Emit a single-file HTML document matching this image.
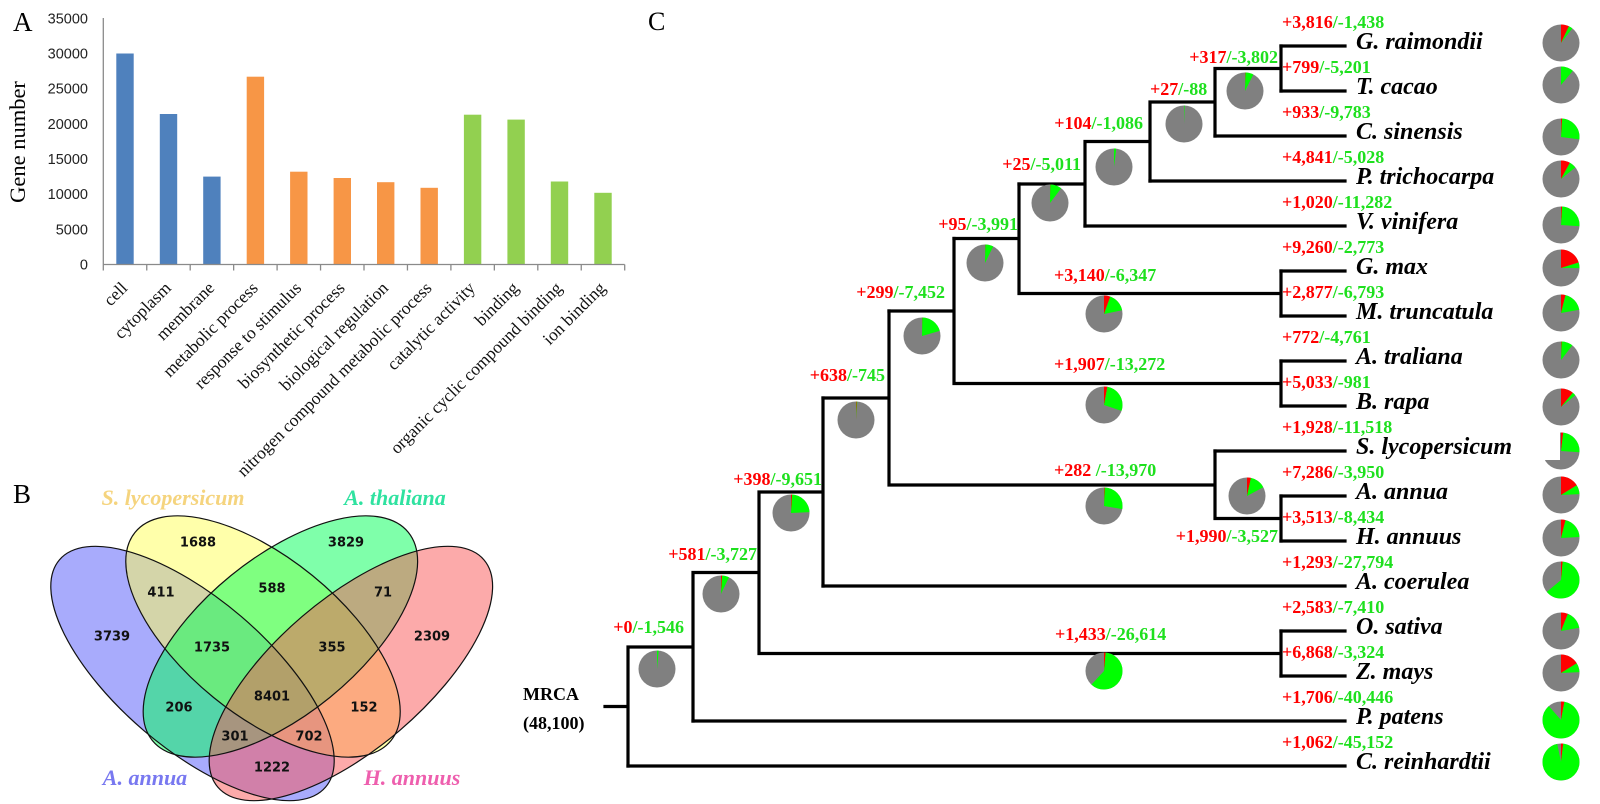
<!DOCTYPE html>
<html><head><meta charset="utf-8"><style>
html,body{margin:0;padding:0;background:#fff;overflow:hidden;width:1600px;height:804px;}
svg{display:block;}
.ser{font-family:"Liberation Serif",serif;}
.tick{font-family:"Liberation Sans",sans-serif;font-size:14.5px;fill:#222;}
.xl{font-family:"Liberation Serif",serif;font-size:17.5px;fill:#111;}
.vn{font-family:"DejaVu Sans",sans-serif;font-size:13px;font-weight:bold;fill:#111;text-anchor:middle;}
.vl{font-family:"Liberation Serif",serif;font-size:22px;font-weight:bold;font-style:italic;text-anchor:middle;}
.ann{font-family:"Liberation Serif",serif;font-size:18px;font-weight:bold;}
.leaf{font-family:"Liberation Serif",serif;font-size:24px;font-weight:bold;font-style:italic;fill:#000;}
.r{fill:#ff0000;}.g{fill:#1ee01e;}
</style></head><body>
<svg width="1600" height="804" viewBox="0 0 1600 804" xmlns="http://www.w3.org/2000/svg" overflow="hidden">
<defs><clipPath id="frame"><rect x="0" y="0" width="1600" height="804"/></clipPath></defs>
<rect width="1600" height="804" fill="#fff"/>

<!-- ===== Panel A ===== -->
<text class="ser" x="13" y="31" font-size="27">A</text>
<text class="ser" font-size="22.5" text-anchor="middle" transform="translate(25,142) rotate(-90)">Gene number</text>
<g class="tick" text-anchor="end">
<text x="88" y="269.5">0</text>
<text x="88" y="234.3">5000</text>
<text x="88" y="199.2">10000</text>
<text x="88" y="164">15000</text>
<text x="88" y="128.8">20000</text>
<text x="88" y="93.7">25000</text>
<text x="88" y="58.5">30000</text>
<text x="88" y="23.3">35000</text>
</g>
<g>
<rect x="116.3" y="53.5" width="17.4" height="211" fill="#4f81bd"/>
<rect x="159.8" y="114" width="17.4" height="150.5" fill="#4f81bd"/>
<rect x="203.2" y="176.6" width="17.4" height="87.9" fill="#4f81bd"/>
<rect x="246.7" y="76.7" width="17.4" height="187.8" fill="#f79646"/>
<rect x="290.1" y="171.7" width="17.4" height="92.8" fill="#f79646"/>
<rect x="333.6" y="178" width="17.4" height="86.5" fill="#f79646"/>
<rect x="377.0" y="182.2" width="17.4" height="82.3" fill="#f79646"/>
<rect x="420.5" y="187.8" width="17.4" height="76.7" fill="#f79646"/>
<rect x="463.9" y="114.7" width="17.4" height="149.8" fill="#92d050"/>
<rect x="507.4" y="119.6" width="17.4" height="144.9" fill="#92d050"/>
<rect x="550.8" y="181.5" width="17.4" height="83" fill="#92d050"/>
<rect x="594.3" y="192.8" width="17.4" height="71.7" fill="#92d050"/>
</g>
<g stroke="#8a8a8a" stroke-width="1.3" fill="none">
<line x1="103.3" y1="18" x2="103.3" y2="264.5"/>
<line x1="103.3" y1="264.5" x2="624.7" y2="264.5"/>
<path d="M103.3 264.5V270.5M146.75 264.5V270.5M190.2 264.5V270.5M233.65 264.5V270.5M277.1 264.5V270.5M320.55 264.5V270.5M364 264.5V270.5M407.45 264.5V270.5M450.9 264.5V270.5M494.35 264.5V270.5M537.8 264.5V270.5M581.25 264.5V270.5M624.7 264.5V270.5"/>
</g>
<g class="xl" text-anchor="end">
<text transform="translate(128.5,289) rotate(-45)">cell</text>
<text transform="translate(172,289) rotate(-45)">cytoplasm</text>
<text transform="translate(215.4,289) rotate(-45)">membrane</text>
<text transform="translate(258.9,289) rotate(-45)">metabolic process</text>
<text transform="translate(302.3,289) rotate(-45)">response to stimulus</text>
<text transform="translate(345.8,289) rotate(-45)">biosynthetic process</text>
<text transform="translate(389.2,289) rotate(-45)">biological regulation</text>
<text transform="translate(432.7,289) rotate(-45)">nitrogen compound metabolic process</text>
<text transform="translate(476.1,289) rotate(-45)">catalytic activity</text>
<text transform="translate(519.6,289) rotate(-45)">binding</text>
<text transform="translate(563,289) rotate(-45)">organic cyclic compound binding</text>
<text transform="translate(606.5,289) rotate(-45)">ion binding</text>
</g>

<!-- ===== Panel B (Venn) ===== -->
<text class="ser" x="13" y="503" font-size="27">B</text>
<g clip-path="url(#frame)">
<g fill-opacity="0.5">
<ellipse cx="192.5" cy="673.5" rx="175" ry="75" transform="rotate(40.5 192.5 673.5)" fill="rgb(81,87,249)"/>
<ellipse cx="263" cy="636.5" rx="165" ry="78.5" transform="rotate(39.15 263 636.5)" fill="rgb(255,255,85)"/>
<ellipse cx="280.4" cy="636.5" rx="165" ry="78.5" transform="rotate(-39.15 280.4 636.5)" fill="rgb(0,255,85)"/>
<ellipse cx="350.9" cy="673.5" rx="175" ry="75" transform="rotate(-40.5 350.9 673.5)" fill="rgb(249,85,85)"/>
</g>
<g fill="none" stroke="#111" stroke-width="1.2">
<ellipse cx="192.5" cy="673.5" rx="175" ry="75" transform="rotate(40.5 192.5 673.5)"/>
<ellipse cx="263" cy="636.5" rx="165" ry="78.5" transform="rotate(39.15 263 636.5)"/>
<ellipse cx="280.4" cy="636.5" rx="165" ry="78.5" transform="rotate(-39.15 280.4 636.5)"/>
<ellipse cx="350.9" cy="673.5" rx="175" ry="75" transform="rotate(-40.5 350.9 673.5)"/>
</g>
</g>
<g class="vn">
<text x="198" y="546.5">1688</text>
<text x="346" y="546.5">3829</text>
<text x="161" y="596.5">411</text>
<text x="272" y="592.5">588</text>
<text x="383" y="596.5">71</text>
<text x="112" y="640.5">3739</text>
<text x="212" y="651.5">1735</text>
<text x="332" y="651.5">355</text>
<text x="432" y="640.5">2309</text>
<text x="272" y="700.5">8401</text>
<text x="179" y="711.5">206</text>
<text x="364" y="711.5">152</text>
<text x="235" y="740.5">301</text>
<text x="309" y="740.5">702</text>
<text x="272" y="771.5">1222</text>
</g>
<text class="vl" x="173" y="505" fill="#f5d47e">S. lycopersicum</text>
<text class="vl" x="395" y="505" fill="#2fe2a0">A. thaliana</text>
<text class="vl" x="145" y="785" fill="#7878f0">A. annua</text>
<text class="vl" x="412" y="785" fill="#ee5fae">H. annuus</text>

<!-- ===== Panel C (tree) ===== -->
<text class="ser" x="648" y="30" font-size="26">C</text>
<g stroke="#000" stroke-width="3.2" fill="none" stroke-linecap="square">
<path d="M1281 46H1345M1281 91H1345M1215 136H1345M1150 181H1345M1085 226H1345M1281 271H1345M1281 316H1345M1281 361H1345M1281 406H1345M1215 451H1345M1281 496H1345M1281 541H1345M823 586H1345M1281 631H1345M1281 676H1345M693 721H1345M628 766H1345"/>
<path d="M1281 46V91M1215 68.5H1281M1215 68.5V136M1150 102H1215M1150 102V181M1085 141.5H1150M1085 141.5V226M1019 184H1085"/>
<path d="M1281 271V316M1019 293.5H1281M1019 184V293.5M954 238.5H1019"/>
<path d="M1281 361V406M954 383.5H1281M954 238.5V383.5M889 311H954"/>
<path d="M1281 496V541M1215 518.5H1281M1215 451V518.5M889 485H1215M889 311V485M823 398H889"/>
<path d="M823 398V586M759 492H823M1281 631V676M759 653.5H1281M759 492V653.5M693 572.5H759M693 572.5V721M628 647H693M628 647V766M605 706.5H628"/>
</g>

<text class="ann" x="523" y="700" font-size="22">MRCA</text>
<text class="ann" x="523" y="729" font-size="22">(48,100)</text>

<g class="leaf">
<text x="1356" y="49">G. raimondii</text>
<text x="1356" y="94">T. cacao</text>
<text x="1356" y="139">C. sinensis</text>
<text x="1356" y="184">P. trichocarpa</text>
<text x="1356" y="229">V. vinifera</text>
<text x="1356" y="274">G. max</text>
<text x="1356" y="319">M. truncatula</text>
<text x="1356" y="364">A. traliana</text>
<text x="1356" y="409">B. rapa</text>
<text x="1356" y="454">S. lycopersicum</text>
<text x="1356" y="499">A. annua</text>
<text x="1356" y="544">H. annuus</text>
<text x="1356" y="589">A. coerulea</text>
<text x="1356" y="634">O. sativa</text>
<text x="1356" y="679">Z. mays</text>
<text x="1356" y="724">P. patens</text>
<text x="1356" y="769">C. reinhardtii</text>
</g>

<g class="ann">
<text x="1282" y="28"><tspan class="r">+3,816</tspan><tspan class="g">/-1,438</tspan></text>
<text x="1282" y="73"><tspan class="r">+799</tspan><tspan class="g">/-5,201</tspan></text>
<text x="1282" y="118"><tspan class="r">+933</tspan><tspan class="g">/-9,783</tspan></text>
<text x="1282" y="163"><tspan class="r">+4,841</tspan><tspan class="g">/-5,028</tspan></text>
<text x="1282" y="208"><tspan class="r">+1,020</tspan><tspan class="g">/-11,282</tspan></text>
<text x="1282" y="253"><tspan class="r">+9,260</tspan><tspan class="g">/-2,773</tspan></text>
<text x="1282" y="298"><tspan class="r">+2,877</tspan><tspan class="g">/-6,793</tspan></text>
<text x="1282" y="343"><tspan class="r">+772</tspan><tspan class="g">/-4,761</tspan></text>
<text x="1282" y="388"><tspan class="r">+5,033</tspan><tspan class="g">/-981</tspan></text>
<text x="1282" y="433"><tspan class="r">+1,928</tspan><tspan class="g">/-11,518</tspan></text>
<text x="1282" y="478"><tspan class="r">+7,286</tspan><tspan class="g">/-3,950</tspan></text>
<text x="1282" y="523"><tspan class="r">+3,513</tspan><tspan class="g">/-8,434</tspan></text>
<text x="1282" y="568"><tspan class="r">+1,293</tspan><tspan class="g">/-27,794</tspan></text>
<text x="1282" y="613"><tspan class="r">+2,583</tspan><tspan class="g">/-7,410</tspan></text>
<text x="1282" y="658"><tspan class="r">+6,868</tspan><tspan class="g">/-3,324</tspan></text>
<text x="1282" y="703"><tspan class="r">+1,706</tspan><tspan class="g">/-40,446</tspan></text>
<text x="1282" y="748"><tspan class="r">+1,062</tspan><tspan class="g">/-45,152</tspan></text>
</g>

<g class="ann">
<text x="1278" y="63" text-anchor="end"><tspan class="r">+317</tspan><tspan class="g">/-3,802</tspan></text>
<text x="1150" y="95"><tspan class="r">+27</tspan><tspan class="g">/-88</tspan></text>
<text x="1143" y="129" text-anchor="end"><tspan class="r">+104</tspan><tspan class="g">/-1,086</tspan></text>
<text x="1081" y="170" text-anchor="end"><tspan class="r">+25</tspan><tspan class="g">/-5,011</tspan></text>
<text x="1018" y="230" text-anchor="end"><tspan class="r">+95</tspan><tspan class="g">/-3,991</tspan></text>
<text x="1054" y="281"><tspan class="r">+3,140</tspan><tspan class="g">/-6,347</tspan></text>
<text x="945" y="298" text-anchor="end"><tspan class="r">+299</tspan><tspan class="g">/-7,452</tspan></text>
<text x="1054" y="370"><tspan class="r">+1,907</tspan><tspan class="g">/-13,272</tspan></text>
<text x="885" y="381" text-anchor="end"><tspan class="r">+638</tspan><tspan class="g">/-745</tspan></text>
<text x="1054" y="476"><tspan class="r">+282 </tspan><tspan class="g">/-13,970</tspan></text>
<text x="822" y="485" text-anchor="end"><tspan class="r">+398</tspan><tspan class="g">/-9,651</tspan></text>
<text x="1278" y="542" text-anchor="end"><tspan class="r">+1,990</tspan><tspan class="g">/-3,527</tspan></text>
<text x="757" y="560" text-anchor="end"><tspan class="r">+581</tspan><tspan class="g">/-3,727</tspan></text>
<text x="684" y="633" text-anchor="end"><tspan class="r">+0</tspan><tspan class="g">/-1,546</tspan></text>
<text x="1055" y="640"><tspan class="r">+1,433</tspan><tspan class="g">/-26,614</tspan></text>
</g>

<g fill="#808080">
<circle cx="1561" cy="43" r="18.5"/><circle cx="1561" cy="85" r="18.5"/><circle cx="1561" cy="137" r="18.5"/>
<circle cx="1561" cy="179" r="18.5"/><circle cx="1561" cy="225" r="18.5"/><circle cx="1561" cy="268" r="18.5"/>
<circle cx="1561" cy="313" r="18.5"/><circle cx="1561" cy="360" r="18.5"/><circle cx="1561" cy="407" r="18.5"/>
<circle cx="1561" cy="451" r="18.5"/><circle cx="1561" cy="495" r="18.5"/><circle cx="1561" cy="538" r="18.5"/>
<circle cx="1561" cy="580" r="18.5"/><circle cx="1561" cy="631" r="18.5"/><circle cx="1561" cy="673" r="18.5"/>
<circle cx="1561" cy="720" r="18.5"/><circle cx="1561" cy="762" r="18.5"/>
<circle cx="1245" cy="91" r="18.5"/><circle cx="1184" cy="124" r="18.5"/><circle cx="1114" cy="167" r="18.5"/>
<circle cx="1050" cy="203" r="18.5"/><circle cx="985" cy="263" r="18.5"/><circle cx="1104" cy="314" r="18.5"/>
<circle cx="922" cy="336" r="18.5"/><circle cx="1104" cy="405" r="18.5"/><circle cx="856" cy="420" r="18.5"/>
<circle cx="1104" cy="506" r="18.5"/><circle cx="1247" cy="496" r="18.5"/><circle cx="791" cy="513" r="18.5"/>
<circle cx="721" cy="594" r="18.5"/><circle cx="657" cy="669" r="18.5"/><circle cx="1104" cy="671" r="18.5"/>
</g>
<g fill="none" stroke="#ff0000" stroke-width="18.5">
<circle cx="1561" cy="43" r="9.25" stroke-dasharray="4.07 60" transform="rotate(-90 1561 43)"/>
<circle cx="1561" cy="137" r="9.25" stroke-dasharray="0.58 60" transform="rotate(-90 1561 137)"/>
<circle cx="1561" cy="179" r="9.25" stroke-dasharray="4.65 60" transform="rotate(-90 1561 179)"/>
<circle cx="1561" cy="225" r="9.25" stroke-dasharray="0.58 60" transform="rotate(-90 1561 225)"/>
<circle cx="1561" cy="268" r="9.25" stroke-dasharray="11.62 60" transform="rotate(-90 1561 268)"/>
<circle cx="1561" cy="313" r="9.25" stroke-dasharray="2.32 60" transform="rotate(-90 1561 313)"/>
<circle cx="1561" cy="360" r="9.25" stroke-dasharray="0.29 60" transform="rotate(-90 1561 360)"/>
<circle cx="1561" cy="407" r="9.25" stroke-dasharray="6.39 60" transform="rotate(-90 1561 407)"/>
<circle cx="1561" cy="451" r="9.25" stroke-dasharray="1.16 60" transform="rotate(-90 1561 451)"/>
<circle cx="1561" cy="495" r="9.25" stroke-dasharray="9.3 60" transform="rotate(-90 1561 495)"/>
<circle cx="1561" cy="538" r="9.25" stroke-dasharray="2.32 60" transform="rotate(-90 1561 538)"/>
<circle cx="1561" cy="580" r="9.25" stroke-dasharray="0.87 60" transform="rotate(-90 1561 580)"/>
<circle cx="1561" cy="631" r="9.25" stroke-dasharray="3.49 60" transform="rotate(-90 1561 631)"/>
<circle cx="1561" cy="673" r="9.25" stroke-dasharray="9.3 60" transform="rotate(-90 1561 673)"/>
<circle cx="1561" cy="720" r="9.25" stroke-dasharray="1.74 60" transform="rotate(-90 1561 720)"/>
<circle cx="1561" cy="762" r="9.25" stroke-dasharray="1.16 60" transform="rotate(-90 1561 762)"/>
<circle cx="1245" cy="91" r="9.25" stroke-dasharray="0.23 60" transform="rotate(-90 1245 91)"/>
<circle cx="1050" cy="203" r="9.25" stroke-dasharray="0.17 60" transform="rotate(-90 1050 203)"/>
<circle cx="985" cy="263" r="9.25" stroke-dasharray="0.17 60" transform="rotate(-90 985 263)"/>
<circle cx="1104" cy="314" r="9.25" stroke-dasharray="3.2 60" transform="rotate(-90 1104 314)"/>
<circle cx="922" cy="336" r="9.25" stroke-dasharray="0.17 60" transform="rotate(-90 922 336)"/>
<circle cx="1104" cy="405" r="9.25" stroke-dasharray="1.74 60" transform="rotate(-90 1104 405)"/>
<circle cx="856" cy="420" r="9.25" stroke-dasharray="0.35 60" transform="rotate(-90 856 420)"/>
<circle cx="1104" cy="506" r="9.25" stroke-dasharray="0.35 60" transform="rotate(-90 1104 506)"/>
<circle cx="1247" cy="496" r="9.25" stroke-dasharray="2.03 60" transform="rotate(-90 1247 496)"/>
<circle cx="791" cy="513" r="9.25" stroke-dasharray="0.58 60" transform="rotate(-90 791 513)"/>
<circle cx="721" cy="594" r="9.25" stroke-dasharray="0.58 60" transform="rotate(-90 721 594)"/>
<circle cx="1104" cy="671" r="9.25" stroke-dasharray="0.87 60" transform="rotate(-90 1104 671)"/>
</g>
<g fill="none" stroke="#00ff00" stroke-width="18.5">
<circle cx="1561" cy="43" r="9.25" stroke-dasharray="0 4.07 2.03 60" transform="rotate(-90 1561 43)"/>
<circle cx="1561" cy="85" r="9.25" stroke-dasharray="0 0.01 6.39 60" transform="rotate(-90 1561 85)"/>
<circle cx="1561" cy="137" r="9.25" stroke-dasharray="0 0.58 15.11 60" transform="rotate(-90 1561 137)"/>
<circle cx="1561" cy="179" r="9.25" stroke-dasharray="0 4.65 3.49 60" transform="rotate(-90 1561 179)"/>
<circle cx="1561" cy="225" r="9.25" stroke-dasharray="0 0.58 14.53 60" transform="rotate(-90 1561 225)"/>
<circle cx="1561" cy="268" r="9.25" stroke-dasharray="0 11.62 2.91 60" transform="rotate(-90 1561 268)"/>
<circle cx="1561" cy="313" r="9.25" stroke-dasharray="0 2.32 10.46 60" transform="rotate(-90 1561 313)"/>
<circle cx="1561" cy="360" r="9.25" stroke-dasharray="0 0.29 5.81 60" transform="rotate(-90 1561 360)"/>
<circle cx="1561" cy="407" r="9.25" stroke-dasharray="0 6.39 1.74 60" transform="rotate(-90 1561 407)"/>
<circle cx="1561" cy="451" r="9.25" stroke-dasharray="0 1.16 13.95 60" transform="rotate(-90 1561 451)"/>
<circle cx="1561" cy="495" r="9.25" stroke-dasharray="0 9.3 4.65 60" transform="rotate(-90 1561 495)"/>
<circle cx="1561" cy="538" r="9.25" stroke-dasharray="0 2.32 11.62 60" transform="rotate(-90 1561 538)"/>
<circle cx="1561" cy="580" r="9.25" stroke-dasharray="0 0.87 36.03 60" transform="rotate(-90 1561 580)"/>
<circle cx="1561" cy="631" r="9.25" stroke-dasharray="0 3.49 9.3 60" transform="rotate(-90 1561 631)"/>
<circle cx="1561" cy="673" r="9.25" stroke-dasharray="0 9.3 4.65 60" transform="rotate(-90 1561 673)"/>
<circle cx="1561" cy="720" r="9.25" stroke-dasharray="0 1.74 49.4 60" transform="rotate(-90 1561 720)"/>
<circle cx="1561" cy="762" r="9.25" stroke-dasharray="0 1.16 54.63 60" transform="rotate(-90 1561 762)"/>
<circle cx="1245" cy="91" r="9.25" stroke-dasharray="0 0.23 4.07 60" transform="rotate(-90 1245 91)"/>
<circle cx="1184" cy="124" r="9.25" stroke-dasharray="0 0.01 0.35 60" transform="rotate(-90 1184 124)"/>
<circle cx="1114" cy="167" r="9.25" stroke-dasharray="0 0.01 1.16 60" transform="rotate(-90 1114 167)"/>
<circle cx="1050" cy="203" r="9.25" stroke-dasharray="0 0.17 5.81 60" transform="rotate(-90 1050 203)"/>
<circle cx="985" cy="263" r="9.25" stroke-dasharray="0 0.17 4.07 60" transform="rotate(-90 985 263)"/>
<circle cx="1104" cy="314" r="9.25" stroke-dasharray="0 3.2 9.3 60" transform="rotate(-90 1104 314)"/>
<circle cx="922" cy="336" r="9.25" stroke-dasharray="0 0.17 11.62 60" transform="rotate(-90 922 336)"/>
<circle cx="1104" cy="405" r="9.25" stroke-dasharray="0 1.74 15.69 60" transform="rotate(-90 1104 405)"/>
<circle cx="856" cy="420" r="9.25" stroke-dasharray="0 0.35 0.35 60" transform="rotate(-90 856 420)"/>
<circle cx="1104" cy="506" r="9.25" stroke-dasharray="0 0.35 15.69 60" transform="rotate(-90 1104 506)"/>
<circle cx="1247" cy="496" r="9.25" stroke-dasharray="0 2.03 7.85 60" transform="rotate(-90 1247 496)"/>
<circle cx="791" cy="513" r="9.25" stroke-dasharray="0 0.58 13.37 60" transform="rotate(-90 791 513)"/>
<circle cx="721" cy="594" r="9.25" stroke-dasharray="0 0.58 3.49 60" transform="rotate(-90 721 594)"/>
<circle cx="657" cy="669" r="9.25" stroke-dasharray="0 0.01 0.87 60" transform="rotate(-90 657 669)"/>
<circle cx="1104" cy="671" r="9.25" stroke-dasharray="0 0.87 34.87 60" transform="rotate(-90 1104 671)"/>
</g>
<rect x="1540" y="430" width="20" height="30" fill="#fff"/>
</svg>
</body></html>
